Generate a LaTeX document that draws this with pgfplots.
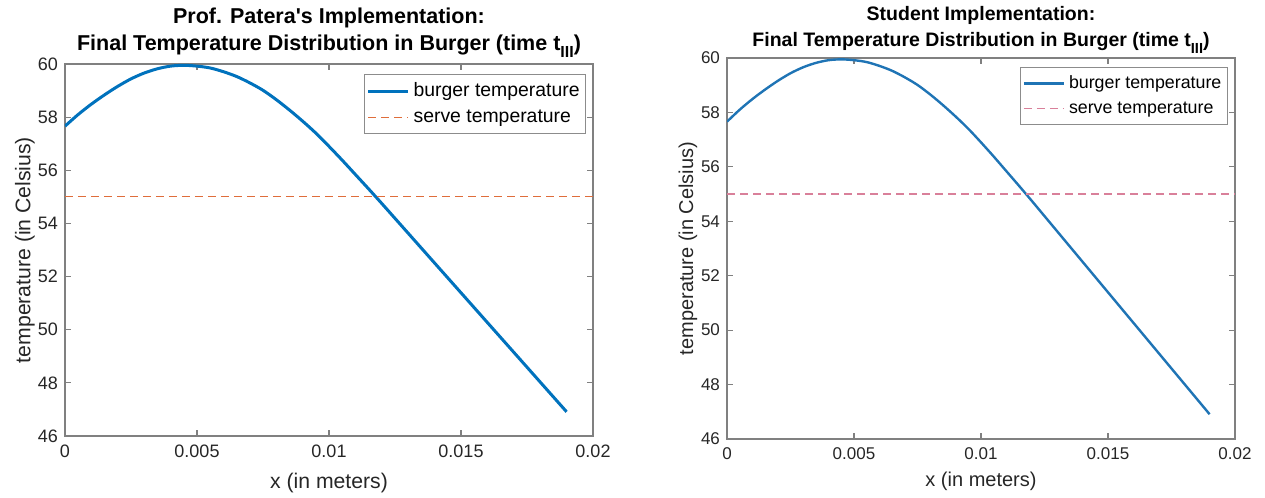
\documentclass[border=0pt]{standalone}
\usepackage{pgfplots}
\pgfplotsset{compat=1.18}
\usepackage{pgfplotstable}
\usepackage{fontspec}
\setmainfont{Liberation Sans}
\definecolor{mblue}{HTML}{0072BD}
\definecolor{mblueR}{HTML}{1F74B5}
\definecolor{morange}{HTML}{D95319}
\definecolor{mpink}{HTML}{D9809A}
\definecolor{mtext}{HTML}{262626}

\pgfplotstableread{
x T
0.0000 57.66
0.0005 58.10
0.0010 58.49
0.0015 58.84
0.0020 59.16
0.0025 59.44
0.0030 59.66
0.0035 59.82
0.0040 59.92
0.0045 59.95
0.0050 59.92
0.0055 59.85
0.0060 59.71
0.0065 59.53
0.0070 59.29
0.0075 59.01
0.0080 58.66
0.0085 58.27
0.0090 57.85
0.0095 57.40
0.0100 56.90
0.0105 56.38
0.0110 55.84
0.0115 55.30
0.0120 54.75
0.0125 54.19
0.0130 53.63
0.0135 53.07
0.0140 52.51
0.0145 51.95
0.0150 51.39
0.0155 50.83
0.0160 50.27
0.0165 49.71
0.0170 49.15
0.0175 48.59
0.0180 48.03
0.0185 47.47
0.0190 46.91
}\burger

\pgfplotstableread{
x T
0.00 55
0.02 55
}\serve

\pgfplotsset{
  matlab/.style={
    scale only axis,
    xmin=0, xmax=0.02, ymin=46, ymax=60,
    xtick={0,0.005,0.01,0.015,0.02},
    xticklabels={0,0.005,0.01,0.015,0.02},
    ytick={46,48,50,52,54,56,58,60},
    yticklabels={46,48,50,52,54,56,58,60},
    scaled x ticks=false,
    tick align=inside,
    tick pos=both,
    major tick length=3pt,
    axis line style={black!50, line width=0.6pt},
    every tick/.style={black!50, line width=0.6pt},
    ticklabel style={text=mtext},
    label style={text=mtext},
    legend cell align=left,
    legend image code/.code={\draw[##1] (0pt,0pt) -- (20pt,0pt);},
  }
}

\begin{document}
\begin{tikzpicture}
\useasboundingbox (0,0) rectangle (632.5pt,249pt);

% ---------- left ----------
\begin{axis}[matlab,
  at={(32.5pt,31pt)}, anchor=south west,
  width=264pt, height=186pt,
  ticklabel style={font=\fontsize{9}{10}\selectfont},
  xticklabel style={yshift=-1pt},
  xlabel={x (in meters)},
  ylabel={temperature (in Celsius)},
  label style={font=\fontsize{10.6}{12}\selectfont},
  xlabel style={at={(axis description cs:0.5,-0.126)}, anchor=center},
  ylabel style={at={(axis description cs:-0.076,0.5)}, anchor=center},
  legend style={font=\fontsize{9.7}{11}\selectfont, draw=black!45, line width=0.5pt,
    at={(0.987,0.973)}, anchor=north east, inner xsep=1pt, inner ysep=2pt, row sep=1pt},
]
\addplot[mblue, line width=1.5pt, smooth, tension=0.5] table[x=x,y=T] {\burger};
\addlegendentry{burger temperature}
\addplot[morange!85, line width=0.6pt, dash pattern=on 4pt off 2.5pt] table[x=x,y=T] {\serve};
\addlegendentry{serve temperature}
\end{axis}

\node[anchor=base, font=\bfseries\fontsize{10.75}{12}\selectfont] at (164.5pt,237pt) {Prof. Patera\textquotesingle s Implementation:};
\node[anchor=base, font=\bfseries\fontsize{10.75}{12}\selectfont] at (164.5pt,223.5pt) {Final Temperature Distribution in Burger (time t\raisebox{-0.6ex}{\fontsize{8}{9}\selectfont III})};

% ---------- right ----------
\begin{axis}[matlab,
  at={(363.5pt,29.5pt)}, anchor=south west,
  width=254pt, height=190.5pt,
  ticklabel style={font=\fontsize{8.5}{10}\selectfont},
  xticklabel style={yshift=-1pt},
  xlabel={x (in meters)},
  ylabel={temperature (in Celsius)},
  label style={font=\fontsize{10}{12}\selectfont},
  xlabel style={at={(axis description cs:0.5,-0.110)}, anchor=center},
  ylabel style={at={(axis description cs:-0.077,0.5)}, anchor=center},
  legend style={font=\fontsize{8.9}{10}\selectfont, draw=black!45, line width=0.5pt,
    at={(0.986,0.976)}, anchor=north east, inner xsep=1pt, inner ysep=2pt, row sep=1pt},
]
\addplot[mblueR, line width=1.2pt, smooth, tension=0.5] table[x=x,y=T] {\burger};
\addlegendentry{burger temperature}
\addplot[mpink, line width=0.6pt, dash pattern=on 4pt off 2.5pt] table[x=x,y=T] {\serve};
\addlegendentry{serve temperature}
\end{axis}

\node[anchor=base, font=\bfseries\fontsize{9.75}{11}\selectfont] at (490.5pt,238.5pt) {Student Implementation:};
\node[anchor=base, font=\bfseries\fontsize{9.75}{11}\selectfont] at (490.5pt,225.5pt) {Final Temperature Distribution in Burger (time t\raisebox{-0.6ex}{\fontsize{7.3}{8}\selectfont III})};
\end{tikzpicture}
\end{document}
